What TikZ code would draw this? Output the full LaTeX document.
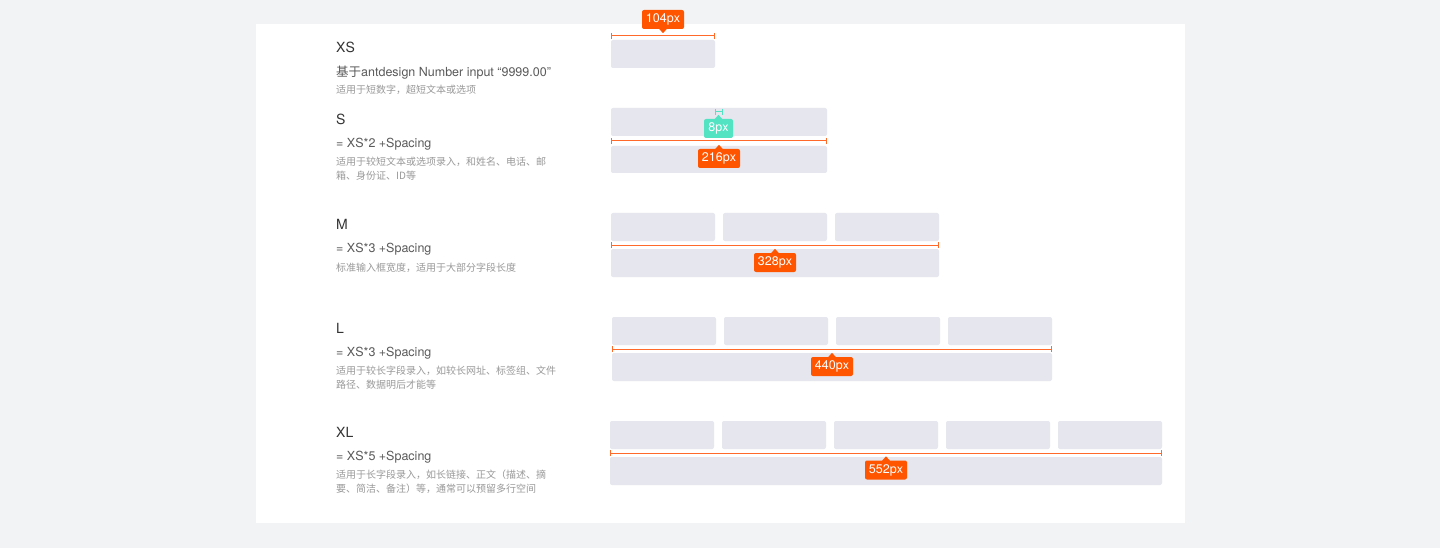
\documentclass[tikz,border=0pt]{standalone}
\usepackage{fontspec}
\setmainfont{TeX Gyre Heros}
\newfontfamily\cjk{Noto Sans CJK SC}
\usetikzlibrary{calc,arrows.meta}
\definecolor{bgc}{HTML}{F2F3F5}
\definecolor{fieldc}{HTML}{E5E6EE}
\definecolor{tagc}{HTML}{FF5500}
\definecolor{linec}{HTML}{FF6A2A}
\definecolor{tealc}{HTML}{52E3C2}
\definecolor{titlec}{HTML}{333333}
\definecolor{subc}{HTML}{5A5A5A}
\definecolor{descc}{HTML}{999999}
\begin{document}
\begin{tikzpicture}[x=1pt,y=-1pt,
 field/.style={fill=fieldc, rounded corners=2pt, inner sep=0pt, outer sep=0pt, anchor=north west, minimum height=28pt},
 tag/.style={fill=tagc, text=white, rounded corners=2pt, minimum width=42pt, minimum height=19pt, inner sep=0pt, font=\fontsize{12.5}{12.5}\selectfont},
 dim/.style={draw=linec, line width=1pt, {Bar[width=6pt,line width=1pt]}-{Bar[width=6pt,line width=1pt]}},
 ttl/.style={anchor=west, inner sep=0pt, text=titlec, font=\fontsize{14}{14}\selectfont},
 sub/.style={anchor=west, inner sep=0pt, text=subc, yshift=-1.5pt, font=\fontsize{12.5}{12.5}\selectfont},
 dsc/.style={anchor=west, inner sep=0pt, text=descc, yshift=-1pt, font=\cjk\fontsize{10}{10}\selectfont},
]
\fill[bgc] (0,0) rectangle (1440,548);
\useasboundingbox (0,0) rectangle (1440,548);
\fill[white] (256,24) rectangle (1185,523);

% ---------- XS ----------
\node[ttl] (tXS) at (336,47) {XS};
\node[sub] (sXS) at (336,71) {{\cjk 基于}antdesign Number input “9999.00”};
\node[dsc] (dXS) at (336,89) {适用于短数字，超短文本或选项};
\node[field, minimum width=104pt] (xs1) at (611,40) {};
\draw[dim] ($(xs1.north west)+(0,-4)$) coordinate (xsa) -- ($(xs1.north east)+(0,-4)$) coordinate (xsb);
\node[tag] (gXS) at (663,19.5) {104px};
\fill[tagc] ($(gXS.south)+(-4,-0.5)$) -- ($(gXS.south)+(0,4)$) -- ($(gXS.south)+(4,-0.5)$) -- cycle;

% ---------- S ----------
\node[ttl] (tS) at (336,119) {S};
\node[sub] (sS) at (336,143) {= XS*2 +Spacing};
\node[dsc] (dS1) at (336,161) {适用于较短文本或选项录入，和姓名、电话、邮};
\node[dsc] (dS2) at (336,175) {箱、身份证、ID等};
\node[field, minimum width=216pt] (s1) at (611,108) {};
\node[field, minimum width=216pt, minimum height=27pt] (s2) at (611,146) {};
\draw[dim] ($(s2.north west)+(0,-5)$) coordinate (sa) -- ($(s2.north east)+(0,-5)$) coordinate (sb);
\coordinate (gapa) at (715,112);
\coordinate (gapb) at (723,112);
\draw[draw=tealc, line width=1pt, {Bar[width=6pt,line width=1pt]}-{Bar[width=6pt,line width=1pt]}] (gapa) -- (gapb);
\node[tag, fill=tealc, minimum width=29pt] (gSp) at (718.5,128.5) {8px};
\fill[tealc] ($(gSp.north)+(-4,0.5)$) -- ($(gSp.north)+(0,-4)$) -- ($(gSp.north)+(4,0.5)$) -- cycle;
\node[tag] (gS) at (719,158.5) {216px};
\fill[tagc] ($(gS.north)+(-4,0.5)$) -- ($(gS.north)+(0,-4)$) -- ($(gS.north)+(4,0.5)$) -- cycle;

% ---------- M ----------
\node[ttl] (tM) at (336,224) {M};
\node[sub] (sM) at (336,248) {= XS*3 +Spacing};
\node[dsc] (dM) at (336,267) {标准输入框宽度，适用于大部分字段长度};
\foreach \i/\x in {1/611,2/723,3/835}
  \node[field, minimum width=104pt] (m\i) at (\x,213) {};
\node[field, minimum width=328pt] (m0) at (611,249) {};
\draw[dim] ($(m0.north west)+(0,-4)$) coordinate (ma) -- ($(m0.north east)+(0,-4)$) coordinate (mb);
\node[tag] (gM) at (775,262.5) {328px};
\fill[tagc] ($(gM.north)+(-4,0.5)$) -- ($(gM.north)+(0,-4)$) -- ($(gM.north)+(4,0.5)$) -- cycle;

% ---------- L ----------
\node[ttl] (tL) at (336,328) {L};
\node[sub] (sL) at (336,352) {= XS*3 +Spacing};
\node[dsc] (dL1) at (336,370) {适用于较长字段录入，如较长网址、标签组、文件};
\node[dsc] (dL2) at (336,384) {路径、数据明后才能等};
\foreach \i/\x in {1/612,2/724,3/836,4/948}
  \node[field, minimum width=104pt] (l\i) at (\x,317) {};
\node[field, minimum width=440pt] (l0) at (612,353) {};
\draw[dim] ($(l0.north west)+(0,-4)$) coordinate (la) -- ($(l0.north east)+(0,-4)$) coordinate (lb);
\node[tag] (gL) at (832,366.5) {440px};
\fill[tagc] ($(gL.north)+(-4,0.5)$) -- ($(gL.north)+(0,-4)$) -- ($(gL.north)+(4,0.5)$) -- cycle;

% ---------- XL ----------
\node[ttl] (tXL) at (336,432) {XL};
\node[sub] (sXL) at (336,456) {= XS*5 +Spacing};
\node[dsc] (dXL1) at (336,474) {适用于长字段录入，如长链接、正文（描述、摘};
\node[dsc] (dXL2) at (336,488) {要、简洁、备注）等，通常可以预留多行空间};
\foreach \i/\x in {1/610,2/722,3/834,4/946,5/1058}
  \node[field, minimum width=104pt] (x\i) at (\x,421) {};
\node[field, minimum width=552pt] (x0) at (610,457) {};
\draw[dim] ($(x0.north west)+(0,-4)$) coordinate (xa) -- ($(x0.north east)+(0,-4)$) coordinate (xb);
\node[tag] (gXL) at (886,470) {552px};
\fill[tagc] ($(gXL.north)+(-4,0.5)$) -- ($(gXL.north)+(0,-4)$) -- ($(gXL.north)+(4,0.5)$) -- cycle;
\end{tikzpicture}
\end{document}
